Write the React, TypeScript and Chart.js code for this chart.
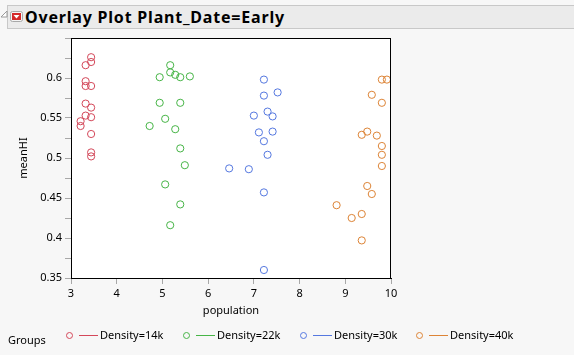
import React, { useEffect, useRef } from "react";
import { Chart, registerables } from "chart.js";

Chart.register(...registerables);

const TITLE = "Overlay Plot Plant_Date=Early";
const X_TITLE = "population";
const Y_TITLE = "meanHI";
const GROUP_LABEL = "Groups";
const SERIES_NAMES = ["Density=14k", "Density=22k", "Density=30k", "Density=40k"];
const SERIES_COLORS = ["#d4485a", "#47b547", "#5578e0", "#dd8436"];

const X_TICKS = [3, 4, 5, 6, 7, 8, 9, 10];
const Y_MIN = 0.35;
const Y_MAX = 0.65;
const Y_LABELS = [0.35, 0.4, 0.45, 0.5, 0.55, 0.6];

// Density=14k
const pop14 = [3.44, 3.44, 3.32, 3.32, 3.32, 3.44, 3.32, 3.44, 3.32, 3.44, 3.21, 3.21, 3.44, 3.44, 3.44];
const hi14 = [0.626, 0.62, 0.616, 0.596, 0.59, 0.59, 0.568, 0.563, 0.553, 0.551, 0.546, 0.54, 0.53, 0.507, 0.502];
// Density=22k
const pop22 = [5.17, 5.17, 5.28, 5.39, 4.94, 5.6, 4.94, 5.39, 5.06, 4.72, 5.28, 5.39, 5.49, 5.06, 5.39, 5.17];
const hi22 = [0.616, 0.607, 0.604, 0.601, 0.601, 0.602, 0.569, 0.569, 0.549, 0.54, 0.536, 0.512, 0.491, 0.467, 0.442, 0.416];
// Density=30k
const pop30 = [7.22, 7.52, 7.22, 7.3, 7.41, 7.0, 7.41, 7.11, 7.22, 7.3, 6.46, 6.89, 7.22, 7.22];
const hi30 = [0.598, 0.582, 0.578, 0.558, 0.552, 0.553, 0.533, 0.532, 0.521, 0.504, 0.487, 0.486, 0.457, 0.36];
// Density=40k
const pop40 = [9.8, 9.91, 9.58, 9.8, 9.48, 9.36, 9.69, 9.8, 9.8, 9.8, 9.48, 9.58, 8.81, 9.36, 9.14, 9.36];
const hi40 = [0.598, 0.598, 0.579, 0.569, 0.533, 0.529, 0.528, 0.515, 0.504, 0.49, 0.465, 0.455, 0.441, 0.43, 0.425, 0.397];

const SERIES_X = [pop14, pop22, pop30, pop40];
const SERIES_Y = [hi14, hi22, hi30, hi40];

const FONT = "'Noto Sans', 'DejaVu Sans', sans-serif";

const framePlugin = {
  id: "frame",
  beforeDraw(chart: any) {
    const { ctx, chartArea } = chart;
    ctx.save();
    ctx.fillStyle = "#ffffff";
    ctx.fillRect(chartArea.left, chartArea.top, chartArea.right - chartArea.left, chartArea.bottom - chartArea.top);
    ctx.restore();
  },
  afterDraw(chart: any) {
    const { ctx, chartArea } = chart;
    ctx.save();
    ctx.strokeStyle = "#000000";
    ctx.lineWidth = 1;
    ctx.strokeRect(chartArea.left + 0.5, chartArea.top + 0.5, chartArea.right - chartArea.left - 1, chartArea.bottom - chartArea.top);
    ctx.restore();
  },
};

function ChartCanvas() {
  const ref = useRef<HTMLCanvasElement | null>(null);
  useEffect(() => {
    if (!ref.current) return;
    const datasets = SERIES_NAMES.map((name, i) => ({
      label: name,
      data: SERIES_X[i].map((x, j) => ({ x, y: SERIES_Y[i][j] })),
      borderColor: SERIES_COLORS[i],
      backgroundColor: "rgba(0,0,0,0)",
      pointRadius: 3.6,
      pointBorderWidth: 1,
      showLine: false,
    }));
    const chart = new Chart(ref.current, {
      type: "scatter",
      data: { datasets },
      plugins: [framePlugin],
      options: {
        responsive: false,
        animation: false,
        layout: { padding: { left: 0, top: 38, right: 183, bottom: 37 } },
        plugins: { legend: { display: false }, tooltip: { enabled: false } },
        scales: {
          x: {
            type: "linear",
            min: X_TICKS[0],
            max: X_TICKS[X_TICKS.length - 1],
            afterBuildTicks: (scale: any) => {
              scale.ticks = X_TICKS.map((v) => ({ value: v }));
            },
            afterFit: (scale: any) => {
              scale.height = 40;
            },
            ticks: {
              color: "#000",
              font: { family: FONT, size: 11 },
              padding: 3,
              maxRotation: 0,
              callback: (v: any) => String(v),
            },
            grid: { drawOnChartArea: false, drawTicks: true, tickLength: 6, color: "#a8a8a8" },
            border: { display: true, color: "#000" },
            title: {
              display: true,
              text: X_TITLE,
              color: "#000",
              font: { family: FONT, size: 11 },
              padding: { top: 0, bottom: 1 },
            },
          },
          y: {
            type: "linear",
            min: Y_MIN,
            max: Y_MAX,
            afterBuildTicks: (scale: any) => {
              const t: any[] = [];
              for (let k = 0; k <= 12; k++) t.push({ value: Y_MIN + k * 0.025 });
              scale.ticks = t;
            },
            afterFit: (scale: any) => {
              scale.width = 71;
            },
            ticks: {
              color: "#000",
              font: { family: FONT, size: 11 },
              padding: 3,
              callback: (v: any) => {
                const m = Y_LABELS.find((l) => Math.abs(l - v) < 1e-6);
                return m === undefined ? "" : String(m);
              },
            },
            grid: { drawOnChartArea: false, drawTicks: true, tickLength: 6, color: "#a8a8a8" },
            border: { display: true, color: "#000" },
            title: {
              display: true,
              text: Y_TITLE,
              color: "#000",
              font: { family: FONT, size: 11 },
              padding: { top: 17, bottom: 0 },
            },
          },
        },
      },
    });
    return () => chart.destroy();
  }, []);
  return <canvas ref={ref} width={574} height={355} style={{ position: "absolute", left: 0, top: 0 }} />;
}

export default function App() {
  useEffect(() => {
    document.body.style.margin = "0";
  }, []);
  const legendX = [66, 183, 300, 416];
  return (
    <div style={{ position: "fixed", left: 0, top: 0, width: 574, height: 355, background: "#f7f7f7", overflow: "hidden", fontFamily: FONT }}>
      <ChartCanvas />
      {/* header bar */}
      <div style={{ position: "absolute", left: 7, top: 5, width: 567, height: 22, background: "#ebebeb", borderTop: "1px solid #c8c8c8", borderBottom: "1px solid #c8c8c8", borderLeft: "1px solid #c8c8c8" }} />
      <svg width={8} height={8} style={{ position: "absolute", left: 0, top: 10 }}>
        <polygon points="1,7 7,7 7,1" fill="#ffffff" stroke="#9a9a9a" strokeWidth={1} />
      </svg>
      <svg width={13} height={11} style={{ position: "absolute", left: 10, top: 11 }}>
        <rect x={0.5} y={0.5} width={12} height={10} rx={2} fill="#f4f4f4" stroke="#a8a8a8" />
        <rect x={2} y={2} width={9} height={7} fill="#d42a2a" />
        <polygon points="3.5,4 9.5,4 6.5,7.5" fill="#ffffff" />
      </svg>
      <div style={{ position: "absolute", left: 25, top: 6, height: 22, lineHeight: "22px", fontSize: 16, fontWeight: 700, color: "#000", whiteSpace: "nowrap", letterSpacing: 0.8 }}>
        {TITLE}
      </div>
      {/* legend */}
      <div style={{ position: "absolute", left: 8, top: 332, fontSize: 11, lineHeight: "16px", color: "#000" }}>{GROUP_LABEL}</div>
      {SERIES_NAMES.map((name, i) => (
        <React.Fragment key={name}>
          <div style={{ position: "absolute", left: legendX[i], top: 332, width: 5, height: 5, border: `1px solid ${SERIES_COLORS[i]}`, borderRadius: "50%" }} />
          <div style={{ position: "absolute", left: legendX[i] + 13, top: 335, width: 19, height: 1, background: SERIES_COLORS[i] }} />
          <div style={{ position: "absolute", left: legendX[i] + 34, top: 327, fontSize: 11, lineHeight: "16px", color: "#000", whiteSpace: "nowrap" }}>{name}</div>
        </React.Fragment>
      ))}
    </div>
  );
}
